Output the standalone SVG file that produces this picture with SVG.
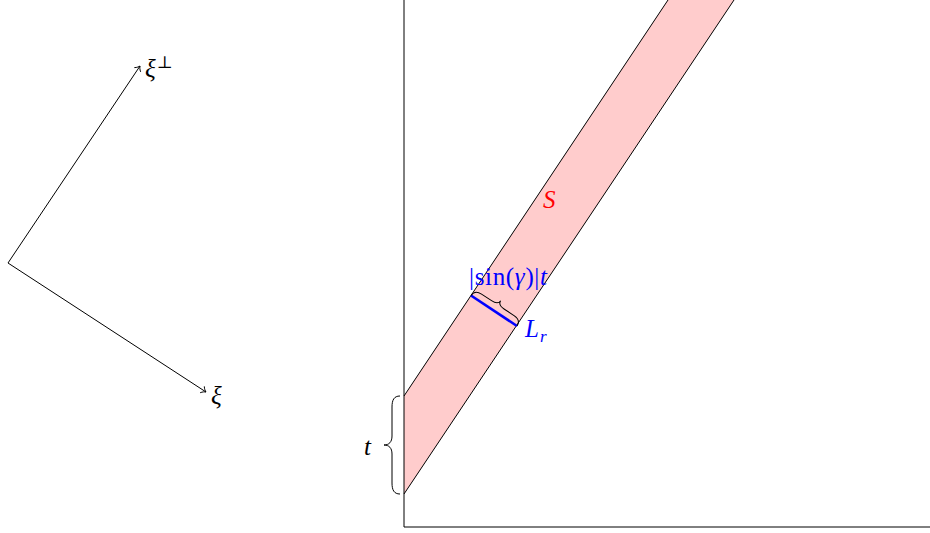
<svg xmlns="http://www.w3.org/2000/svg" width="930" height="533" viewBox="0 0 930 533">
<defs>
<style>
.ln{stroke:#000;stroke-width:1;fill:none}
.lbl{font-family:"Liberation Serif","DejaVu Serif",serif;font-size:25px}
.it{font-style:italic}
</style>
<marker id="to" viewBox="-6 -5 8 10" markerWidth="8" markerHeight="10" refX="0" refY="0" orient="auto" markerUnits="userSpaceOnUse">
<path d="M -4.5 -3.8 C -3 -1.6 -1.2 -0.5 0 0 C -1.2 0.5 -3 1.6 -4.5 3.8" stroke="#000" stroke-width="0.9" fill="none"/>
</marker>
</defs>
<rect width="930" height="533" fill="#fff"/>
<g id="strip">
<polygon points="404,396 668,0 734,0 404,494" fill="#FFCCCC"/>
<line class="ln" x1="404" y1="396" x2="668" y2="0"/>
<line class="ln" x1="404" y1="494" x2="734" y2="0"/>
</g>
<g id="axes">
<polyline class="ln" points="404,0 404,527 930,527"/>
</g>
<g id="connectors">
<line class="ln" x1="8" y1="263" x2="140" y2="66" marker-end="url(#to)"/>
<line class="ln" x1="8" y1="263" x2="206" y2="392" marker-end="url(#to)"/>
</g>
<g id="labels-left">
<text class="lbl it" x="145" y="77">ξ<tspan font-style="normal" font-size="17" dy="-9" dx="1">⊥</tspan></text>
<text class="lbl it" x="211" y="404">ξ</text>
</g>
<g id="t-brace">
<path class="ln" d="M 400 396 C 394 396 392 400 392 407 L 392 436 C 392 442 389 445 384 445 C 389 445 392 448 392 454 L 392 483 C 392 490 394 494 400 494"/>
<text class="lbl it" x="364" y="455">t</text>
</g>
<g id="S">
<text class="lbl it" x="543" y="208" fill="#FF0000">S</text>
</g>
<g id="Lr">
<line x1="471" y1="295.5" x2="517" y2="326" stroke="#0000FF" stroke-width="2.6"/>
<path class="ln" transform="translate(471,295.5) rotate(33.5)" d="M 0 0 C 0 -5 3 -7 8 -7 L 20 -7 C 25 -7 27.6 -9 27.6 -12 C 27.6 -9 30 -7 35 -7 L 47 -7 C 52 -7 55.2 -5 55.2 0"/>
<text class="lbl" x="469" y="285" fill="#0000FF" textLength="78" lengthAdjust="spacing">|sin(<tspan class="it">γ</tspan>)|<tspan class="it">t</tspan></text>
<text class="lbl it" x="525" y="337" fill="#0000FF">L<tspan font-size="17" dy="5" dx="1">r</tspan></text>
</g>
</svg>
